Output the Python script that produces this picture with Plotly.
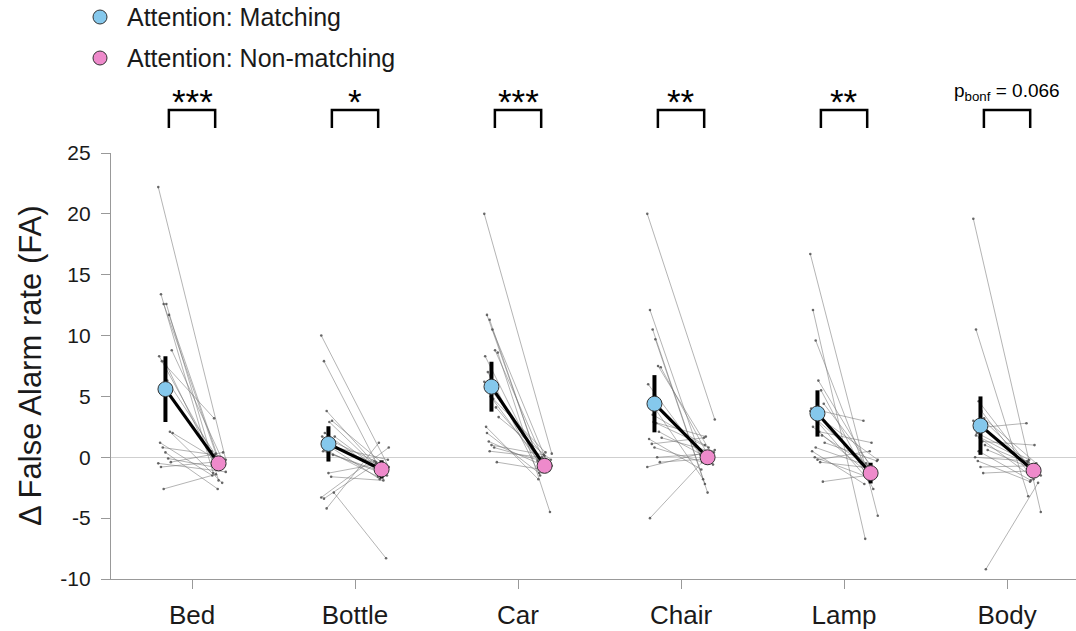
import plotly.graph_objects as go

categories = ["Bed", "Bottle", "Car", "Chair", "Lamp", "Body"]
significance = ["***", "*", "***", "**", "**", "p<sub>bonf</sub> = 0.066"]
y_ticks = [-10, -5, 0, 5, 10, 15, 20, 25]
y_ticklabels = ["-10", "-5", "0", "5", "10", "15", "20", "25"]

# individual subjects: matching / non-matching (same subject order)
bed_match = [22.2, 13.4, 12.6, 12.6, 11.7, 8.8, 8.3, 7.9, 7.9, 6.3, 2.1, 2.0, 1.2, 0.8, 0.4, -0.1, -0.4, -0.5, -0.8, -2.6]
bed_nonmatch = [-0.2, -1.3, 0.3, -1.9, -0.8, -0.5, 0.5, 3.2, -1.0, -0.3, -2.1, -0.6, -1.5, 0.2, -2.6, -0.9, 0.4, -1.2, -0.4, -1.4]
bottle_match = [10.0, 7.9, 3.8, 2.9, 3.0, 1.7, 1.7, 2.0, 1.0, 0.9, 0.2, 0.8, 0.5, 0.6, -1.3, -1.6, -2.9, -3.3, -3.4, -4.2]
bottle_nonmatch = [-0.8, -0.4, -0.9, -1.2, -0.6, -1.5, -0.3, -1.1, -1.8, -0.7, -1.4, -0.2, -1.0, -1.6, -0.5, -1.9, -8.3, 0.8, -0.5, 1.2]
car_match = [20.0, 11.7, 11.3, 10.5, 8.8, 8.6, 8.3, 7.0, 5.0, 4.8, 4.1, 3.3, 2.5, 1.3, 1.0, 0.8, -0.4, 6.2, 2.0, 0.5]
car_nonmatch = [0.3, -0.5, -1.2, 0.1, -0.9, -4.5, -0.3, -1.5, -0.8, 0.4, -1.0, -0.2, -1.8, -0.6, 0.2, -0.4, -1.1, -0.7, -1.3, 0.0]
chair_match = [20.0, 12.1, 10.5, 9.7, 7.5, 7.4, 6.0, 4.5, 2.9, 2.8, 2.1, 1.6, 1.5, 1.1, 0.8, 0.0, -0.4, -0.8, -5.0, 3.5]
chair_nonmatch = [3.1, -0.3, -2.2, -2.9, 0.5, -0.6, 0.2, -1.8, 1.7, 0.8, -0.2, 0.4, -1.0, 1.6, -0.5, 0.3, -0.1, 0.6, -0.4, 1.0]
lamp_match = [16.7, 12.1, 9.6, 6.3, 5.5, 4.4, 4.0, 3.3, 3.0, 2.1, 1.8, 1.2, 0.5, 0.0, -0.2, -0.4, -2.0, 3.8, 2.5, 0.8]
lamp_nonmatch = [-4.8, -6.7, -1.5, -0.8, -2.6, -1.2, 3.0, -0.5, -1.9, 1.2, -1.0, -0.3, -2.2, -1.6, 0.5, -0.9, -1.4, -0.2, -1.1, -0.7]
body_match = [19.6, 10.5, 4.6, 3.8, 3.2, 2.8, 2.4, 2.0, 1.6, 1.3, 1.0, 0.6, 0.0, -0.3, -0.8, -1.3, -9.2, 3.0, 1.8, 0.5]
body_nonmatch = [-4.5, -3.2, -1.0, -1.8, -0.5, -1.4, 2.8, -0.2, -1.6, 1.0, -0.8, -1.2, -0.3, -2.0, -0.7, -1.1, -2.1, -1.5, -0.4, -1.9]

# group means and error-bar half widths
mean_match = [5.6, 1.1, 5.8, 4.4, 3.6, 2.6]
err_match = [2.7, 1.45, 2.05, 2.35, 1.9, 2.4]
mean_nonmatch = [-0.5, -1.0, -0.7, 0.0, -1.3, -1.1]
err_nonmatch = [0.4, 0.75, 0.6, 0.6, 0.85, 0.6]

subjects_match = [bed_match, bottle_match, car_match, chair_match, lamp_match, body_match]
subjects_nonmatch = [bed_nonmatch, bottle_nonmatch, car_nonmatch, chair_nonmatch, lamp_nonmatch, body_nonmatch]

OFF = 0.163
XMIN, XMAX = -0.497, 5.423
FONT = "Liberation Sans, Arial, Helvetica, sans-serif"
BLUE = "#85C8EC"
PINK = "#EE8ACB"


def jit(i, k):
    return (((i * 37 + k * 11) % 17) - 8) * 0.0055


fig = go.Figure()

# subject lines
lx, ly = [], []
dx, dy = [], []
for c in range(len(categories)):
    for i, (a, b) in enumerate(zip(subjects_match[c], subjects_nonmatch[c])):
        x0 = c - OFF + jit(i, 0)
        x1 = c + OFF + jit(i, 3)
        lx += [x0, x1, None]
        ly += [a, b, None]
        dx += [x0, x1]
        dy += [a, b]

fig.add_trace(go.Scatter(x=lx, y=ly, mode="lines",
                         line=dict(color="rgba(110,110,110,0.65)", width=0.8),
                         hoverinfo="skip", showlegend=False))
fig.add_trace(go.Scatter(x=dx, y=dy, mode="markers",
                         marker=dict(color="rgba(70,70,70,0.8)", size=2.6),
                         hoverinfo="skip", showlegend=False))

# mean connecting lines
mx, my = [], []
for c in range(len(categories)):
    mx += [c - OFF, c + OFF, None]
    my += [mean_match[c], mean_nonmatch[c], None]
fig.add_trace(go.Scatter(x=mx, y=my, mode="lines",
                         line=dict(color="black", width=3.2),
                         hoverinfo="skip", showlegend=False))

xs = list(range(len(categories)))
fig.add_trace(go.Scatter(
    x=[c - OFF for c in xs], y=mean_match, mode="markers",
    error_y=dict(type="data", array=err_match, color="black", thickness=4, width=0),
    marker=dict(color=BLUE, size=15, line=dict(color="#333", width=1)),
    name="Attention: Matching", showlegend=False))
fig.add_trace(go.Scatter(
    x=[c + OFF for c in xs], y=mean_nonmatch, mode="markers",
    error_y=dict(type="data", array=err_nonmatch, color="black", thickness=4, width=0),
    marker=dict(color=PINK, size=15, line=dict(color="#333", width=1)),
    name="Attention: Non-matching", showlegend=False))


def px(xd):
    return (xd - XMIN) / (XMAX - XMIN)


PLOT_TOP, PLOT_BOT = 153, 579


def py(pix):
    return (PLOT_BOT - pix) / (PLOT_BOT - PLOT_TOP)


shapes = []
annotations = []
for c, sig in enumerate(significance):
    xa, xb = px(c - 0.142), px(c + 0.142)
    shapes.append(dict(type="path", xref="paper", yref="paper",
                       path=f"M {xa},{py(128)} L {xa},{py(110)} L {xb},{py(110)} L {xb},{py(128)}",
                       line=dict(color="black", width=2.5)))
    if sig.startswith("p"):
        annotations.append(dict(x=px(c), y=py(106), xref="paper", yref="paper",
                                text=sig, showarrow=False, xanchor="center", yanchor="bottom",
                                font=dict(size=19, color="black", family=FONT)))
    else:
        annotations.append(dict(x=px(c), y=py(123), xref="paper", yref="paper",
                                text=sig, showarrow=False, xanchor="center", yanchor="bottom",
                                font=dict(size=35, color="black", family=FONT)))

# legend (manual)
for k, (lab, col) in enumerate([("Attention: Matching", BLUE), ("Attention: Non-matching", PINK)]):
    yc = py(17 + 41 * k)
    shapes.append(dict(type="circle", xref="paper", yref="paper",
                       xsizemode="pixel", ysizemode="pixel",
                       xanchor=px(XMIN) - 11 / 965, yanchor=yc,
                       x0=-7, x1=7, y0=-7, y1=7,
                       fillcolor=col, line=dict(color="#333", width=1)))
    annotations.append(dict(x=(125 - 111) / 965, y=yc, xref="paper", yref="paper",
                            text=lab, showarrow=False, xanchor="left", yanchor="middle",
                            font=dict(size=25, color="#1a1a1a", family=FONT)))

annotations.append(dict(x=(30 - 111) / 965, y=0.5, xref="paper", yref="paper",
                        text="Δ False Alarm rate (FA)", textangle=-90, showarrow=False,
                        xanchor="center", yanchor="middle",
                        font=dict(size=31, color="#1a1a1a", family=FONT)))

fig.update_layout(
    width=1076, height=631,
    margin=dict(l=111, r=0, t=PLOT_TOP, b=631 - PLOT_BOT, pad=0),
    plot_bgcolor="white", paper_bgcolor="white",
    font=dict(family=FONT, color="#1a1a1a"),
    shapes=shapes, annotations=annotations,
    xaxis=dict(range=[XMIN, XMAX], tickvals=xs, ticktext=categories,
               showline=True, linecolor="#999", linewidth=1.2,
               ticks="outside", ticklen=9, tickcolor="#999", tickwidth=1.2,
               showgrid=False, zeroline=False,
               tickfont=dict(size=26, color="#1a1a1a"), ticklabelstandoff=4),
    yaxis=dict(range=[-10, 25], tickvals=y_ticks, ticktext=y_ticklabels,
               showline=True, linecolor="#999", linewidth=1.2,
               ticks="outside", ticklen=9, tickcolor="#999", tickwidth=1.2,
               showgrid=False, zeroline=True, zerolinecolor="#cfcfcf", zerolinewidth=1,
               tickfont=dict(size=21, color="#1a1a1a"), ticklabelstandoff=6),
    showlegend=False,
)

fig.write_html("out.html")
